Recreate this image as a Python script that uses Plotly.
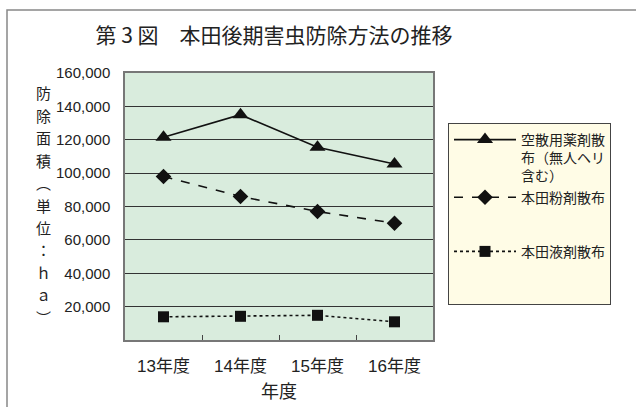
import plotly.graph_objects as go

categories = ["13年度", "14年度", "15年度", "16年度"]
series_names = ["空散用薬剤散<br>布（無人ヘリ<br>含む）", "本田粉剤散布", "本田液剤散布<br> <br> "]
aerial = [121500, 135000, 115500, 105500]
powder = [98000, 86000, 77000, 70000]
liquid = [13900, 14200, 14800, 10900]
y_ticks = [20000, 40000, 60000, 80000, 100000, 120000, 140000, 160000]
y_ticklabels = ["20,000", "40,000", "60,000", "80,000", "100,000", "120,000", "140,000", "160,000"]
y_title_chars = ["防", "除", "面", "積", "︵", "単", "位", "：", "ｈ", "ａ", "︶"]

CJK = "Noto Sans CJK JP"
NUM = "Liberation Sans, Noto Sans CJK JP"

fig = go.Figure()
fig.add_trace(go.Scatter(
    x=categories, y=aerial, name=series_names[0], mode="lines+markers",
    line=dict(color="#111111", width=1.6, dash="solid"),
    marker=dict(symbol="triangle-up", size=14, color="#111111"),
    legendgroup="a"))
fig.add_trace(go.Scatter(
    x=categories, y=powder, name=series_names[1], mode="lines+markers",
    line=dict(color="#111111", width=1.6, dash="dash"),
    marker=dict(symbol="diamond", size=12, color="#111111"),
    legendgroup="a"))
fig.add_trace(go.Scatter(
    x=categories, y=liquid, name=series_names[2], mode="lines+markers",
    line=dict(color="#111111", width=1.6, dash="dot"),
    marker=dict(symbol="square", size=11, color="#111111"),
    legendgroup="b"))

L, R, T, B = 125, 433, 73, 340
W, H = 636, 407
pw, ph = R - L, B - T

def px_x(p):
    return (p - L) / pw

def px_y(p):
    return (B - p) / ph

fig.update_layout(
    width=W, height=H,
    margin=dict(l=L, r=W - R, t=T, b=H - B, pad=0, autoexpand=False),
    paper_bgcolor="white",
    plot_bgcolor="#D9ECDD",
    font=dict(family=CJK, color="#222222"),
    title=dict(text="第 3 図　本田後期害虫防除方法の推移", font=dict(family=CJK, size=21, color="#222222"),
               xref="container", x=274 / W, xanchor="center",
               yref="container", y=1 - 36 / H, yanchor="middle"),
    showlegend=True,
    legend=dict(
        x=px_x(448), xanchor="left", y=px_y(123), yanchor="top",
        bgcolor="#FFFCE6", bordercolor="#444444", borderwidth=1,
        font=dict(family=CJK, size=14, color="#222222"),
        valign="top", traceorder="grouped", tracegroupgap=33,
        itemwidth=62,
    ),
)

fig.update_xaxes(
    type="category", range=[-0.5, 3.5], automargin=False,
    showgrid=False, showline=True, linecolor="#777777", linewidth=1.5, mirror=True,
    ticks="inside", tickson="boundaries", ticklen=5, tickcolor="#444444",
    ticklabelstandoff=10,
    tickfont=dict(family=NUM, size=17, color="#222222"),
    title=dict(text="年度", font=dict(family=CJK, size=18, color="#222222"), standoff=10),
    fixedrange=True,
)
fig.update_yaxes(
    range=[0, 160000], tickvals=y_ticks, ticktext=y_ticklabels, automargin=False,
    showgrid=True, gridcolor="#333333", gridwidth=1,
    showline=True, linecolor="#777777", linewidth=1.5, mirror=True,
    ticks="", ticklabelstandoff=10, zeroline=False,
    tickfont=dict(family=NUM, size=15, color="#222222"),
    fixedrange=True,
)

# vertical (stacked) y-axis title, one character per line
top_c, step_c = 93, 22.4
for i, ch in enumerate(y_title_chars):
    fig.add_annotation(
        text=ch, xref="paper", yref="paper",
        x=px_x(43), y=px_y(top_c + i * step_c), xanchor="center", yanchor="middle",
        showarrow=False, font=dict(family=CJK, size=15, color="#222222"),
    )

# outer chart frame
fig.add_shape(type="rect", xref="paper", yref="paper",
              x0=px_x(7), x1=px_x(645), y0=px_y(415), y1=px_y(10),
              line=dict(color="#888888", width=1.5), fillcolor="rgba(0,0,0,0)", layer="below")

fig.write_html("out.html")
